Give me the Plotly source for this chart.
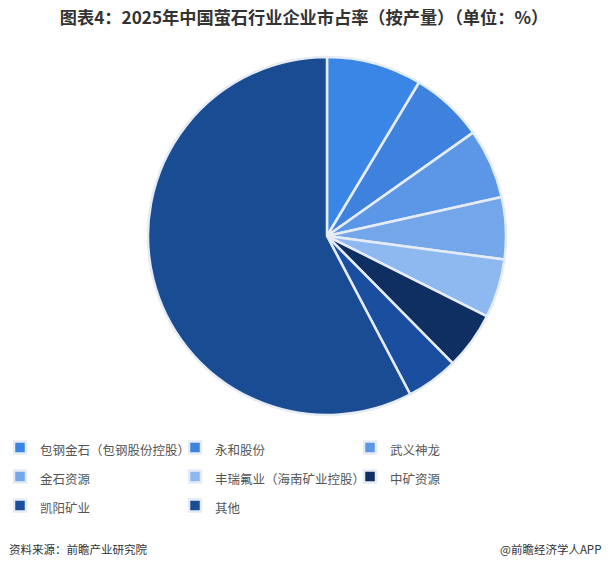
import plotly.graph_objects as go

companies = ["包钢金石（包钢股份控股）", "永和股份", "武义神龙", "金石资源",
             "丰瑞氟业（海南矿业控股）", "中矿资源", "凯阳矿业", "其他"]
shares = [8.6, 6.6, 6.3, 5.6, 5.3, 5.2, 4.7, 57.7]
colors = ["#3A86E6", "#3E82DD", "#5B97E6", "#74A7EA", "#8DB8F0",
          "#0F2F63", "#1A4E9E", "#1A4C94"]

title_text = "图表4：2025年中国萤石行业企业市占率（按产量）（单位：%）"
source_text = "资料来源：前瞻产业研究院"
brand_text = "@前瞻经济学人APP"

FONT = "Noto Sans CJK SC"
LEGEND_TEXT_SIZE = 12.5

legend_labels = ['<span style="font-size:%spx">%s</span>' % (LEGEND_TEXT_SIZE, c)
                 for c in companies]

fig = go.Figure()
fig.add_trace(go.Pie(
    labels=legend_labels,
    values=shares,
    sort=False,
    direction="clockwise",
    rotation=0,
    textinfo="none",
    hovertemplate="%{label}: %{value}%<extra></extra>",
    marker=dict(colors=colors, line=dict(color="#E6ECF4", width=2.5)),
    domain=dict(x=[0.2434, 0.8322], y=[0.2719, 0.9]),
))

fig.update_layout(
    width=608, height=570,
    margin=dict(l=0, r=0, t=0, b=0),
    paper_bgcolor="white",
    plot_bgcolor="white",
    font=dict(family=FONT, color="#333333"),
    title=dict(text="<b>" + title_text + "</b>", x=0.5, xanchor="center",
               y=0.968, yanchor="middle",
               font=dict(family=FONT, size=17.2, color="#333333")),
    legend=dict(orientation="h", x=0, y=0.249, xanchor="left", yanchor="top",
                entrywidth=130, entrywidthmode="pixels",
                font=dict(family=FONT, size=20, color="#555555"),
                itemclick=False, itemdoubleclick=False, traceorder="normal"),
    annotations=[
        dict(text=source_text, xref="paper", yref="paper", x=0.012, y=0.037,
             xanchor="left", yanchor="middle", showarrow=False,
             font=dict(family=FONT, size=11.5, color="#333333")),
        dict(text=brand_text, xref="paper", yref="paper", x=0.992, y=0.037,
             xanchor="right", yanchor="middle", showarrow=False,
             font=dict(family=FONT, size=11.5, color="#333333")),
    ],
)

fig.write_html("out.html", config={"displayModeBar": False},
               post_script="document.body.style.margin='0';")
